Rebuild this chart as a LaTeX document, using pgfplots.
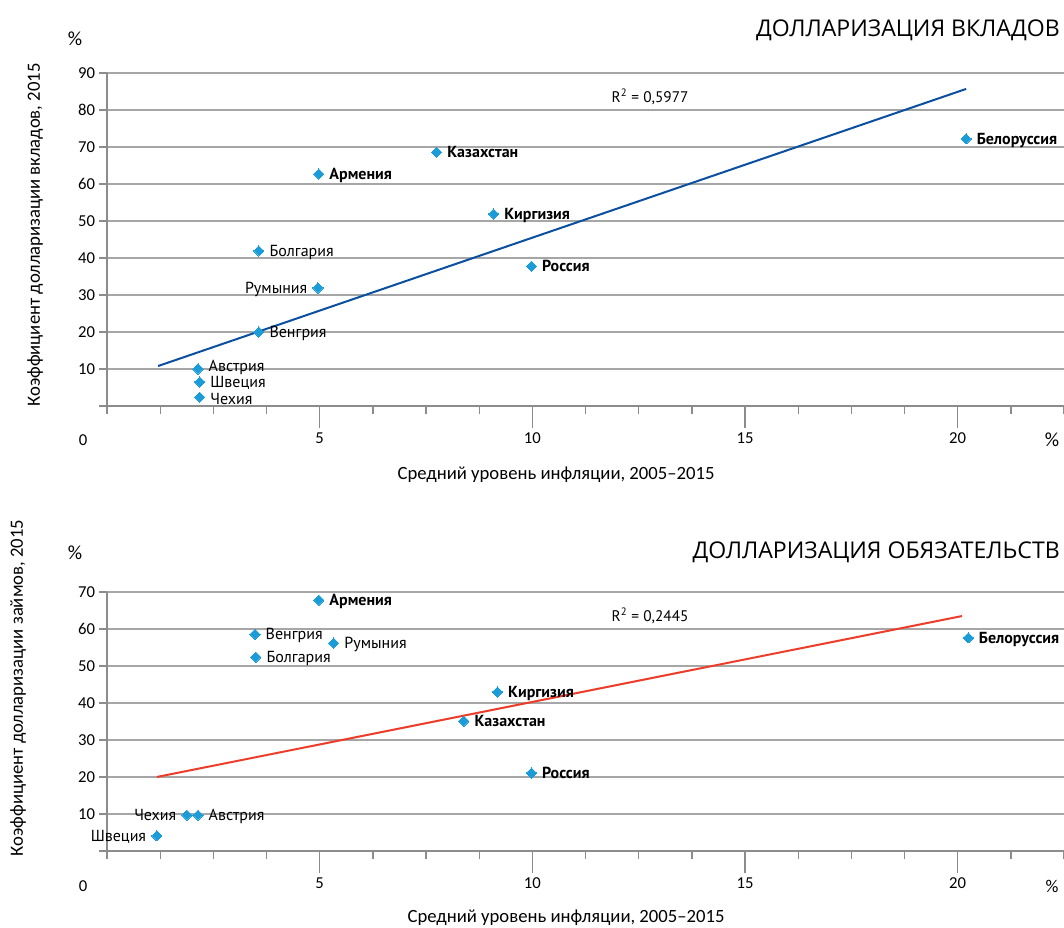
\documentclass[border=0pt]{standalone}
\usepackage{fontspec}
\setmainfont{Carlito}
\newfontfamily\ptsans{PT Sans}
\newfontfamily\opensans{Open Sans}
\usepackage{pgfplots}
\pgfplotsset{compat=1.18}
\definecolor{gridgray}{HTML}{A6A6A6}
\definecolor{axisgray}{HTML}{8C8C8C}
\definecolor{mk}{HTML}{1B9BD7}
\definecolor{trendblue}{HTML}{0A4FA0}
\definecolor{trendred}{HTML}{EC3D2B}
\pgfplotsset{
  dollar/.style={
    scale only axis, width=717.75pt,
    xmin=0, xmax=22.5, ymin=0,
    axis x line=bottom, axis y line=left,
    axis line style={-, axisgray, line width=1.5pt},
    xtick={5,10,15,20},
    minor xtick={0,1.25,2.5,3.75,5,6.25,7.5,8.75,10,11.25,12.5,13.75,15,16.25,17.5,18.75,20,21.25,22.5},
    tick align=outside,
    major tick length=16.5pt,
    minor tick length=6pt,
    every tick/.style={axisgray, line width=1pt},
    major y tick style={draw=none},
    ymajorgrids,
    grid style={gridgray, line width=1.1pt},
    /pgf/number format/assume math mode=true,
    ticklabel style={font=\fontsize{12.5}{14}\selectfont, text=black},
    yticklabel style={xshift=11pt},
    clip=false,
  },
  pts/.style={only marks, mark=square*, mark size=2.7pt,
    mark options={rotate=45, fill=mk, draw=mk, line width=0pt},
    point meta=explicit symbolic, nodes near coords,
    every node near coord/.append style={font=\ptsans\fontsize{12}{14}\selectfont, text=black, anchor=west, inner sep=0pt, text height=7.5pt, text depth=1.5pt, xshift=8pt, yshift=-1pt}},
  ptsl/.style={pts, every node near coord/.append style={anchor=east, xshift=-16pt}},
  ptsup/.style={pts, every node near coord/.append style={yshift=2.2pt}},
  ptsdn/.style={pts, every node near coord/.append style={yshift=-1.2pt}},
}
\begin{document}
\begin{tikzpicture}
\path[use as bounding box] (0,0) rectangle (798pt,-696pt);
% ---------- top panel ----------
\begin{axis}[dollar, height=249.75pt, ymax=90,
  at={(80.25pt,-304.5pt)}, anchor=south west,
  ytick={0,10,20,30,40,50,60,70,80,90},
  yticklabels={{},10,20,30,40,50,60,70,80,90},
  minor ytick={0,10,20,30,40,50,60,70,80,90}]
\addplot[trendblue, line width=1.5pt] coordinates {(1.2,10.8) (20.2,85.7)};
\addplot[ptsup] coordinates {(2.14,10.0) [Австрия]};
\addplot[pts] coordinates {(2.18,6.5) [Швеция]};
\addplot[ptsdn] coordinates {(2.18,2.4) [Чехия]};
\addplot[pts] coordinates {
 (3.57,20.0) [Венгрия]
 (3.57,41.9) [Болгария]
 (4.98,62.7) [\textbf{Армения}]
 (7.75,68.6) [\textbf{Казахстан}]
 (9.09,51.9) [\textbf{Киргизия}]
 (9.98,37.8) [\textbf{Россия}]
 (20.2,72.2) [\textbf{Белоруссия}]
};
\addplot[ptsl] coordinates {(4.96,31.9) [Румыния]};
\node[anchor=west, inner sep=0pt, font=\ptsans\fontsize{11.5}{13}\selectfont] at (axis cs:11.86,83.5) {R\textsuperscript{2} = 0,5977};
\end{axis}
% ---------- bottom panel ----------
\begin{axis}[dollar, height=194.25pt, ymax=70,
  at={(80.25pt,-638.25pt)}, anchor=south west,
  ytick={0,10,20,30,40,50,60,70},
  yticklabels={{},10,20,30,40,50,60,70},
  minor ytick={0,10,20,30,40,50,60,70}]
\addplot[trendred, line width=1.5pt] coordinates {(1.17,20.0) (20.1,63.5)};
\addplot[pts] coordinates {
 (4.98,67.8) [\textbf{Армения}]
 (3.48,58.6) [Венгрия]
 (5.33,56.2) [Румыния]
 (3.5,52.4) [Болгария]
 (9.18,43.0) [\textbf{Киргизия}]
 (8.39,35.1) [\textbf{Казахстан}]
 (9.98,21.1) [\textbf{Россия}]
 (20.25,57.6) [\textbf{Белоруссия}]
 (2.14,9.7) [Австрия]
};
\addplot[ptsl] coordinates {(1.88,9.7) [Чехия] (1.17,4.1) [Швеция]};
\node[anchor=west, inner sep=0pt, font=\ptsans\fontsize{11.5}{13}\selectfont] at (axis cs:11.86,63.5) {R\textsuperscript{2} = 0,2445};
\end{axis}
% ---------- texts ----------
\node[anchor=east, inner sep=0pt, font=\opensans\fontsize{17.3}{20}\selectfont] at (795pt,-22.5pt) {ДОЛЛАРИЗАЦИЯ ВКЛАДОВ};
\node[anchor=east, inner sep=0pt, font=\opensans\fontsize{17.3}{20}\selectfont] at (795pt,-414pt) {ДОЛЛАРИЗАЦИЯ ОБЯЗАТЕЛЬСТВ};
\node[font=\fontsize{15}{17}\selectfont] at (56.25pt,-29.25pt) {\%};
\node[font=\fontsize{15}{17}\selectfont] at (56.25pt,-414.75pt) {\%};
\node[font=\fontsize{12.5}{14}\selectfont] at (62.25pt,-330pt) {0};
\node[font=\fontsize{12.5}{14}\selectfont] at (62.25pt,-664.5pt) {0};
\node[font=\fontsize{15}{17}\selectfont] at (789pt,-330pt) {\%};
\node[font=\fontsize{13.5}{15}\selectfont] at (789pt,-664.5pt) {\%};
\node[font=\fontsize{14}{16}\selectfont] at (417pt,-356.25pt) {Средний уровень инфляции, 2005–2015};
\node[font=\fontsize{14}{16}\selectfont] at (424.5pt,-688.5pt) {Средний уровень инфляции, 2005–2015};
\node[rotate=90, font=\fontsize{14}{16}\selectfont] at (26.25pt,-176.25pt) {Коэффициент долларизации вкладов, 2015};
\node[rotate=90, font=\fontsize{14}{16}\selectfont] at (13.5pt,-516pt) {Коэффициент долларизации займов, 2015};
\end{tikzpicture}
\end{document}
